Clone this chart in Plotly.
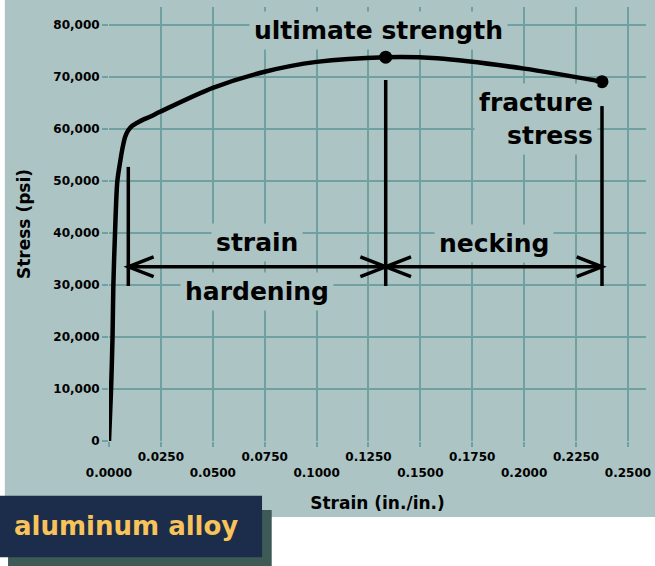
import plotly.graph_objects as go

# stress-strain curve of an aluminum alloy
strain = [0.0, 0.0010, 0.0017, 0.0021, 0.0029, 0.0040, 0.0053, 0.0066, 0.0078, 0.0092,
          0.0112, 0.0145, 0.0200, 0.0246, 0.050, 0.075, 0.1000, 0.1333, 0.1580, 0.2000, 0.2375]
stress = [0, 10000, 20000, 30000, 40000, 49900, 53500, 56500, 58500, 59700,
          60600, 61400, 62400, 63300, 67900, 71000, 72900, 73800, 73600, 71600, 69100]

# the two marked points
point_strain = [0.1333, 0.2375]
point_stress = [73800, 69100]

# bracket: start of strain hardening, ultimate strength, fracture
bracket_strain = [0.0093, 0.1333, 0.2375]
bracket_top = [52700, 69400, 64400]
bracket_bottom = 29800
arrow_stress = 33500

x_ticks = [0.0, 0.025, 0.05, 0.075, 0.1, 0.125, 0.15, 0.175, 0.2, 0.225, 0.25]
y_ticks = [0, 10000, 20000, 30000, 40000, 50000, 60000, 70000, 80000]

PANEL = "#adc4c4"
GRID = "#70a0a0"
FONT = "Verdana, DejaVu Sans, sans-serif"

# x labels alternate between two rows
x_text = [("%.4f" % v) if i % 2 else ("<br>%.4f" % v) for i, v in enumerate(x_ticks)]

fig = go.Figure()
fig.add_trace(go.Scatter(
    x=strain, y=stress, mode="lines",
    line=dict(color="black", width=4.5, shape="spline", smoothing=0.8),
    cliponaxis=False, hoverinfo="skip", showlegend=False,
))
fig.add_trace(go.Scatter(
    x=point_strain, y=point_stress, mode="markers",
    marker=dict(color="black", size=13),
    cliponaxis=False, showlegend=False,
))

shapes = [
    # grey-green panel behind everything
    dict(type="rect", xref="paper", yref="paper", x0=-0.194, x1=1.02, y0=-0.175, y1=1.02,
         fillcolor=PANEL, line_width=0, layer="below"),
]

# vertical bracket lines
for xs, top in zip(bracket_strain, bracket_top):
    shapes.append(dict(type="line", x0=xs, x1=xs, y0=bracket_bottom, y1=top,
                       line=dict(color="black", width=3.5)))

# horizontal arrows with open heads at both ends
head_dx = 0.0122
head_dy = 1900
for a, b in zip(bracket_strain[:-1], bracket_strain[1:]):
    shapes.append(dict(type="line", x0=a, x1=b, y0=arrow_stress, y1=arrow_stress,
                       line=dict(color="black", width=3.5)))
    for tip, d in ((a, head_dx), (b, -head_dx)):
        shapes.append(dict(
            type="path",
            path="M %f,%f L %f,%f L %f,%f" % (tip + d, arrow_stress + head_dy, tip, arrow_stress,
                                               tip + d, arrow_stress - head_dy),
            line=dict(color="black", width=3.5)))

# label box with shadow
shapes.append(dict(type="rect", xref="paper", yref="paper", x0=-0.188, x1=0.303,
                   y0=-0.288, y1=-0.159, fillcolor="#3e5a57", line_width=0))
shapes.append(dict(type="rect", xref="paper", yref="paper", x0=-0.21, x1=0.285,
                   y0=-0.268, y1=-0.126, fillcolor="#1b2d4a", line_width=0))

big = dict(family=FONT, size=25, color="black", weight="bold")
annotations = [
    dict(x=0.1296, y=79000, text="ultimate strength"),
    dict(x=0.0713, y=38100, text="strain"),
    dict(x=0.0713, y=28800, text="hardening"),
    dict(x=0.1855, y=37900, text="necking"),
    dict(x=0.2355, y=61900, text="fracture<br>stress", xanchor="right", align="right"),
]
for a in annotations:
    a.update(showarrow=False, font=big, bgcolor=PANEL, borderpad=4)
    a.setdefault("xanchor", "center")

annotations.append(dict(
    xref="paper", yref="paper", x=-0.18, y=-0.197, xanchor="left", yanchor="middle",
    text="aluminum alloy", showarrow=False,
    font=dict(family=FONT, size=26, color="#f7c35a", weight="bold"),
))

fig.update_layout(
    width=655, height=566,
    margin=dict(l=109, r=9, t=7, b=125),
    paper_bgcolor="white",
    plot_bgcolor=PANEL,
    font=dict(family=FONT, color="black"),
    shapes=shapes,
    annotations=annotations,
    xaxis=dict(
        range=[0, 0.2587], tickvals=x_ticks, ticktext=x_text, automargin=False,
        showgrid=True, gridcolor=GRID, gridwidth=2,
        ticks="outside", ticklen=5, tickcolor=GRID, tickwidth=2,
        zeroline=False, showline=False,
        tickfont=dict(family=FONT, size=12, weight="bold"),
        title=dict(text="Strain (in./in.)", standoff=18,
                   font=dict(family=FONT, size=17, weight="bold")),
    ),
    yaxis=dict(
        range=[0, 83450], tickvals=y_ticks, tickformat=",", automargin=False,
        showgrid=True, gridcolor=GRID, gridwidth=2,
        ticks="outside", ticklen=6, tickcolor=GRID, tickwidth=2,
        zeroline=False, showline=False,
        tickfont=dict(family=FONT, size=12, weight="bold"),
        title=dict(text="Stress (psi)", standoff=18,
                   font=dict(family=FONT, size=17, weight="bold")),
    ),
)

# drop the default page margin so the figure sits at the window corner
fig.write_html("out.html", config={"displayModeBar": False},
               post_script="document.body.style.margin = '0';")
